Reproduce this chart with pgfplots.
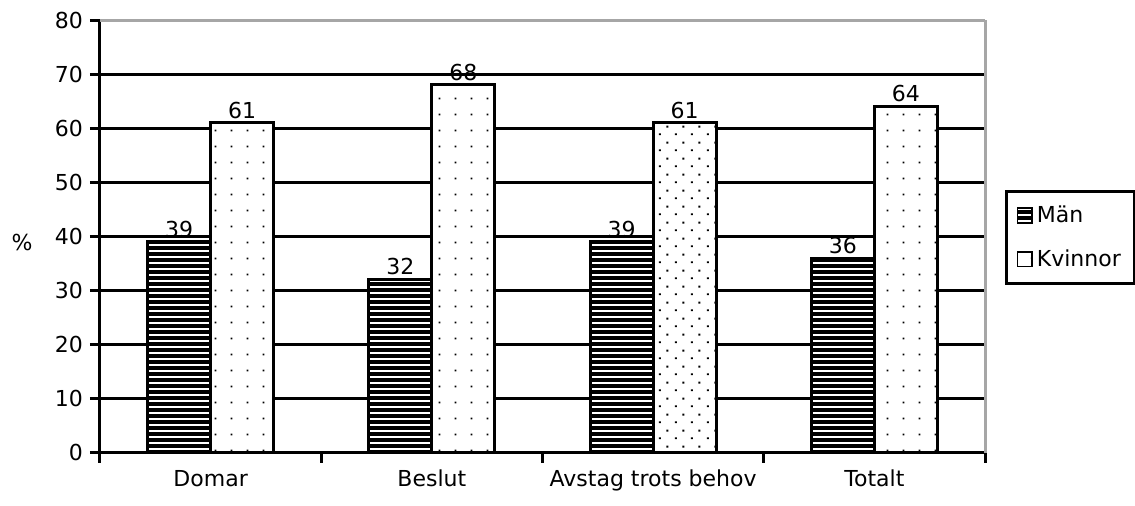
\documentclass[border=0pt]{standalone}
\usepackage{fontspec}
\setmainfont{DejaVu Sans}
\usepackage{pgfplots}
\pgfplotsset{compat=1.18}
\usetikzlibrary{patterns.meta}
\pgfdeclarepattern{name=whitestripes, type=uncolored,
  bottom left={\pgfpoint{-.1pt}{-.1pt}}, top right={\pgfpoint{3.1pt}{3.1pt}},
  tile size={\pgfpoint{3pt}{3pt}},
  code={\pgfsetlinewidth{0.9pt}\pgfpathmoveto{\pgfpoint{-.1pt}{1.5pt}}\pgfpathlineto{\pgfpoint{3.1pt}{1.5pt}}\pgfusepath{stroke}}}
\pgfdeclarepattern{name=sparsedots, type=uncolored,
  bottom left={\pgfpoint{0pt}{0pt}}, top right={\pgfpoint{8pt}{8pt}},
  tile size={\pgfpoint{8pt}{8pt}},
  code={\pgfpathrectangle{\pgfpoint{3.5pt}{3.5pt}}{\pgfpoint{1pt}{1pt}}\pgfusepath{fill}}}
\pgfdeclarepattern{name=densedots, type=uncolored,
  bottom left={\pgfpoint{0pt}{0pt}}, top right={\pgfpoint{8pt}{8pt}},
  tile size={\pgfpoint{8pt}{8pt}},
  code={\pgfpathrectangle{\pgfpoint{1.5pt}{1.5pt}}{\pgfpoint{1pt}{1pt}}\pgfpathrectangle{\pgfpoint{5.5pt}{5.5pt}}{\pgfpoint{1pt}{1pt}}\pgfusepath{fill}}}
\begin{document}
\begin{tikzpicture}
\begin{axis}[
  name=ax,
  scale only axis,
  width=442.5pt, height=216.5pt,
  ymin=0, ymax=80,
  xmin=-0.5, xmax=3.5,
  ytick={0,10,...,70},
  extra y ticks={80},
  extra y tick style={grid style={gray!70, line width=1.5pt}},
  ymajorgrids,
  grid style={black, line width=1.5pt},
  xtick={-0.5,0.5,1.5,2.5,3.5},
  x tick label as interval,
  xticklabels={Domar,Beslut,Avstag trots behov,Totalt},
  axis lines*=left,
  axis line style={black, line width=1.5pt},
  every outer x axis line/.append style={line width=1.5pt},
  every outer y axis line/.append style={line width=1.5pt},
  tick style={black, line width=1.5pt},
  tick align=outside,
  major tick length=5pt,
  tick label style={font=\fontsize{11}{13}\selectfont},
  /pgf/number format/assume math mode=true,
  ylabel={\%},
  ylabel style={rotate=-90, font=\fontsize{11}{13}\selectfont, at={(rel axis cs:0,0.485)}, anchor=center, xshift=-39pt},
  ybar=0pt,
  bar width=31.5pt,
  nodes near coords,
  nodes near coords style={font=\fontsize{11}{13}\selectfont, inner sep=1.5pt},
  legend style={at={(rel axis cs:1.0226,0.607)}, anchor=north west, draw=black, line width=1.5pt,
    font=\fontsize{11}{13}\selectfont, inner sep=5pt, row sep=8pt, legend cell align=left},
  legend image code/.code={\draw[#1, line width=0.8pt] (0cm,-0.13cm) rectangle (0.26cm,0.13cm);},
  clip=false,
]
\addplot[draw=black, line width=1.5pt, fill=black, postaction={pattern={whitestripes}, pattern color=white}, bar shift=-15.75pt]
  coordinates {(0,39) (1,32) (2,39) (3,36)};
\addlegendentry{Män}
\addplot[draw=black, line width=1.5pt, fill=white, postaction={pattern={sparsedots}, pattern color=black}, bar shift=15.75pt]
  coordinates {(0,61) (1,68) (3,64)};
\addlegendentry{Kvinnor}
\addplot[draw=black, line width=1.5pt, fill=white, postaction={pattern={densedots}, pattern color=black}, bar shift=15.75pt, forget plot]
  coordinates {(2,61)};
\draw[gray!70, line width=1.5pt] (rel axis cs:1,0) -- (rel axis cs:1,1);
\end{axis}
\pgfresetboundingbox
\path ([shift={(-50pt,-26.5pt)}]ax.south west) rectangle ([shift={(75pt,10pt)}]ax.north east);
\end{tikzpicture}
\end{document}
